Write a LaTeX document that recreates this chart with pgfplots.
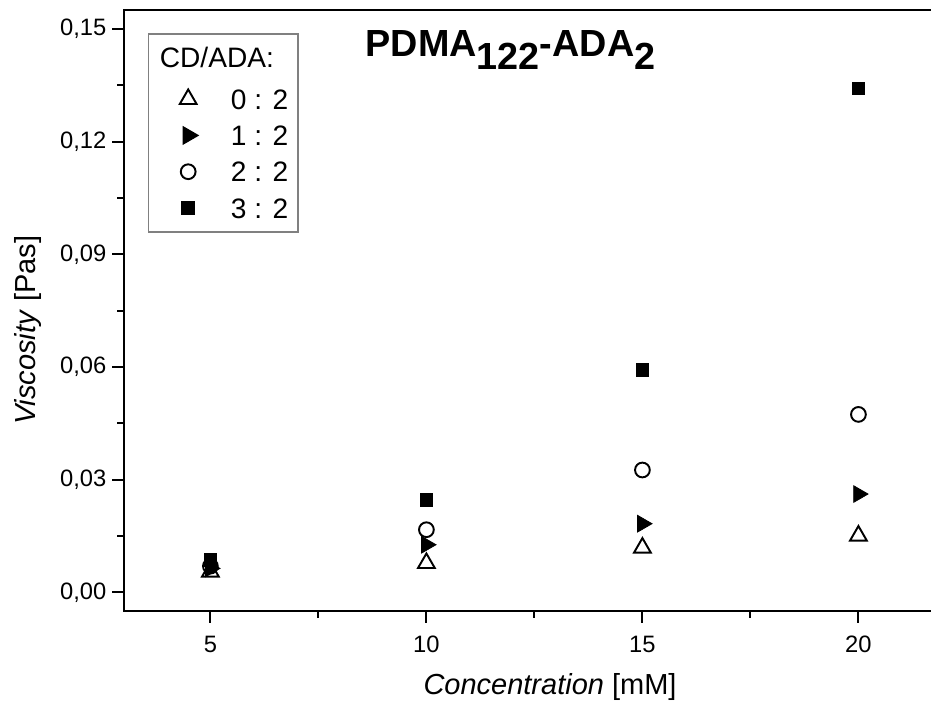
\documentclass[border=0pt]{standalone}
\usepackage{fontspec}
\setmainfont{Liberation Sans}
\usepackage{pgfplots}
\pgfplotsset{compat=1.18}

\begin{document}
\begin{tikzpicture}
\begin{axis}[
    scale only axis,
    width=16.42cm, height=12.02cm,
    xmin=3, xmax=22, ymin=-0.005, ymax=0.155,
    clip=false,
    axis line style={line width=1.3pt},
    xtick={5,10,15,20}, minor x tick num=1,
    ytick={0,0.03,0.06,0.09,0.12,0.15}, minor y tick num=1,
    xtick pos=bottom, ytick pos=left,
    tick align=outside,
    major tick length=0.23cm, minor tick length=0.13cm,
    tick style={black, line width=1.1pt},
    /pgf/number format/assume math mode=true,
    tick label style={font=\fontsize{13.5}{15}\selectfont},
    xticklabel style={yshift=-0.15cm},
    yticklabel style={/pgf/number format/.cd, fixed, fixed zerofill, precision=2, use comma},
    scaled y ticks=false,
    xlabel={\textit{Concentration} [mM]},
    ylabel={\textit{Viscosity} [Pas]},
    label style={font=\fontsize{16.5}{19}\selectfont},
    xlabel style={at={(axis description cs:0.519,-0.138)}, anchor=base},
    ylabel style={at={(axis description cs:-0.108,0.4676)}, anchor=base},
    legend style={
        at={(axis description cs:0.029,0.962)}, anchor=north west,
        draw=gray, line width=0.8pt,
        font=\fontsize{16}{19}\selectfont,
        inner xsep=0.2cm, inner ysep=0.28cm, row sep=0.226cm,
        nodes={inner sep=0pt, text height=0.5cm, text depth=0pt},
    },
    legend cell align=left,
    legend image code/.code={
        \path (0cm,0cm) (1.42cm,0cm);
        \draw[#1] plot coordinates {(0.58cm,-0.05cm)};
    },
]
\addlegendimage{empty legend}
\addlegendentry{\hspace*{-1.42cm}\raisebox{0.1cm}{CD/ADA:}}

\addplot[only marks, mark=triangle, mark size=5.5pt, mark options={line width=1.1pt, fill=white}]
    coordinates {(5,0.0055) (10,0.0078) (15,0.0119) (20,0.0151)};
\addlegendentry{0 : 2}

\addplot[only marks, mark=triangle*, mark size=5.5pt, mark options={rotate=-90, fill=black}]
    coordinates {(5,0.0064) (10,0.0127) (15,0.0183) (20,0.0262)};
\addlegendentry{1 : 2}

\addplot[only marks, mark=o, mark size=4.2pt, mark options={line width=1.1pt}]
    coordinates {(5,0.0070) (10,0.0167) (15,0.0326) (20,0.0474)};
\addlegendentry{2 : 2}

\addplot[only marks, mark=square*, mark size=3.6pt, mark options={fill=black}]
    coordinates {(5,0.0087) (10,0.0246) (15,0.0593) (20,0.1342)};
\addlegendentry{3 : 2}

\node[anchor=base west, font=\fontsize{21.5}{25}\selectfont\bfseries]
    at (axis cs:8.45,0.1427) {PDMA\raisebox{-0.35em}{122}-ADA\raisebox{-0.35em}{2}};

\coordinate (bbSW) at (axis cs:0.130,-0.03097);
\coordinate (bbNE) at (axis cs:21.68,0.15775);
\end{axis}
\pgfresetboundingbox
\useasboundingbox (bbSW) rectangle (bbNE);
\end{tikzpicture}
\end{document}
